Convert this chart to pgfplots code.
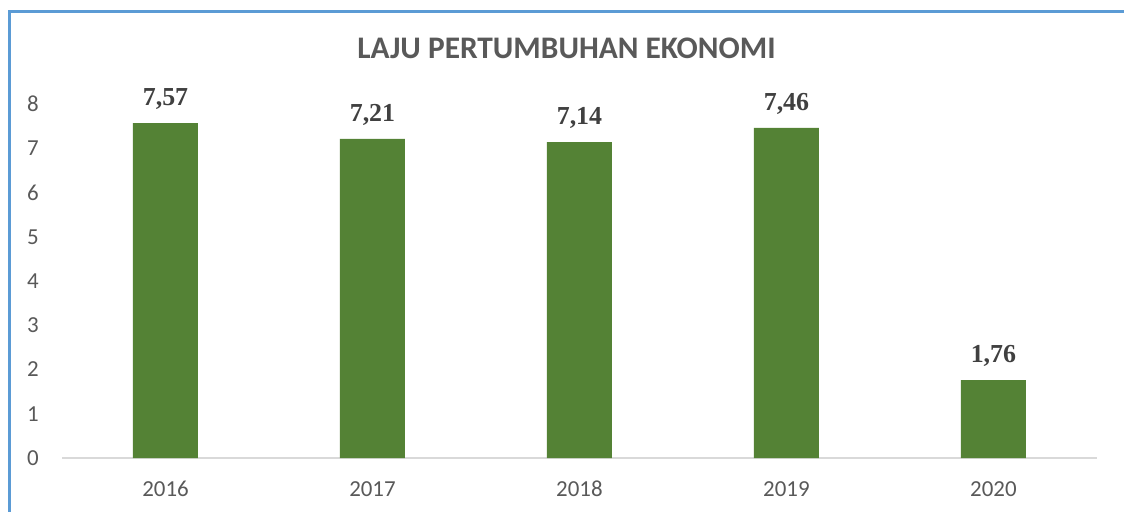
\documentclass[border=0pt]{standalone}
\usepackage{pgfplots}
\pgfplotsset{compat=1.18}
\usepackage{fontspec}
\setmainfont{Carlito}
\newfontfamily\serifb{Liberation Serif}
\definecolor{barg}{HTML}{548235}
\definecolor{tickg}{HTML}{595959}
\definecolor{labg}{HTML}{404040}
\definecolor{baseg}{HTML}{D9D9D9}
\definecolor{frameb}{HTML}{5B9BD5}
\begin{document}
\begin{tikzpicture}
\path[use as bounding box] (0,0) rectangle (1124bp,512bp);
\draw[color=frameb, line width=2.5bp] (9.5bp,0) -- (9.5bp,500.5bp) -- (1124bp,500.5bp);
\begin{axis}[
  at={(62bp,54bp)}, anchor=south west,
  scale only axis, width=1035bp, height=354bp,
  xmin=-0.5, xmax=4.5, ymin=0, ymax=8,
  clip=false,
  /pgf/number format/assume math mode=true,
  axis x line*=bottom,
  axis y line*=left,
  x axis line style={color=baseg, line width=1.5bp, -},
  y axis line style={draw=none},
  major tick length=0pt,
  xtick=data,
  xticklabels={2016,2017,2018,2019,2020},
  ytick={0,1,2,3,4,5,6,7,8},
  tick label style={font=\fontsize{23}{27}\selectfont, color=tickg},
  xticklabel style={anchor=center, yshift=-31bp},
  yticklabel style={anchor=center, xshift=-29bp},
  title={\bfseries LAJU PERTUMBUHAN EKONOMI},
  title style={font=\fontsize{31.5}{36}\selectfont, color=tickg, at={(axis description cs:0.5,1)}, anchor=center, yshift=50bp, xshift=-13bp},
  ybar, bar width=65bp,
  nodes near coords={\pgfmathprintnumber[assume math mode=true, use comma, fixed, fixed zerofill, precision=2]{\pgfplotspointmeta}},
  every node near coord/.append style={font=\serifb\bfseries\fontsize{26}{30}\selectfont, color=labg, anchor=south, inner sep=0pt, yshift=13bp},
]
\addplot[fill=barg, draw=none] coordinates {(0,7.57) (1,7.21) (2,7.14) (3,7.46) (4,1.76)};
\end{axis}
\end{tikzpicture}
\end{document}
